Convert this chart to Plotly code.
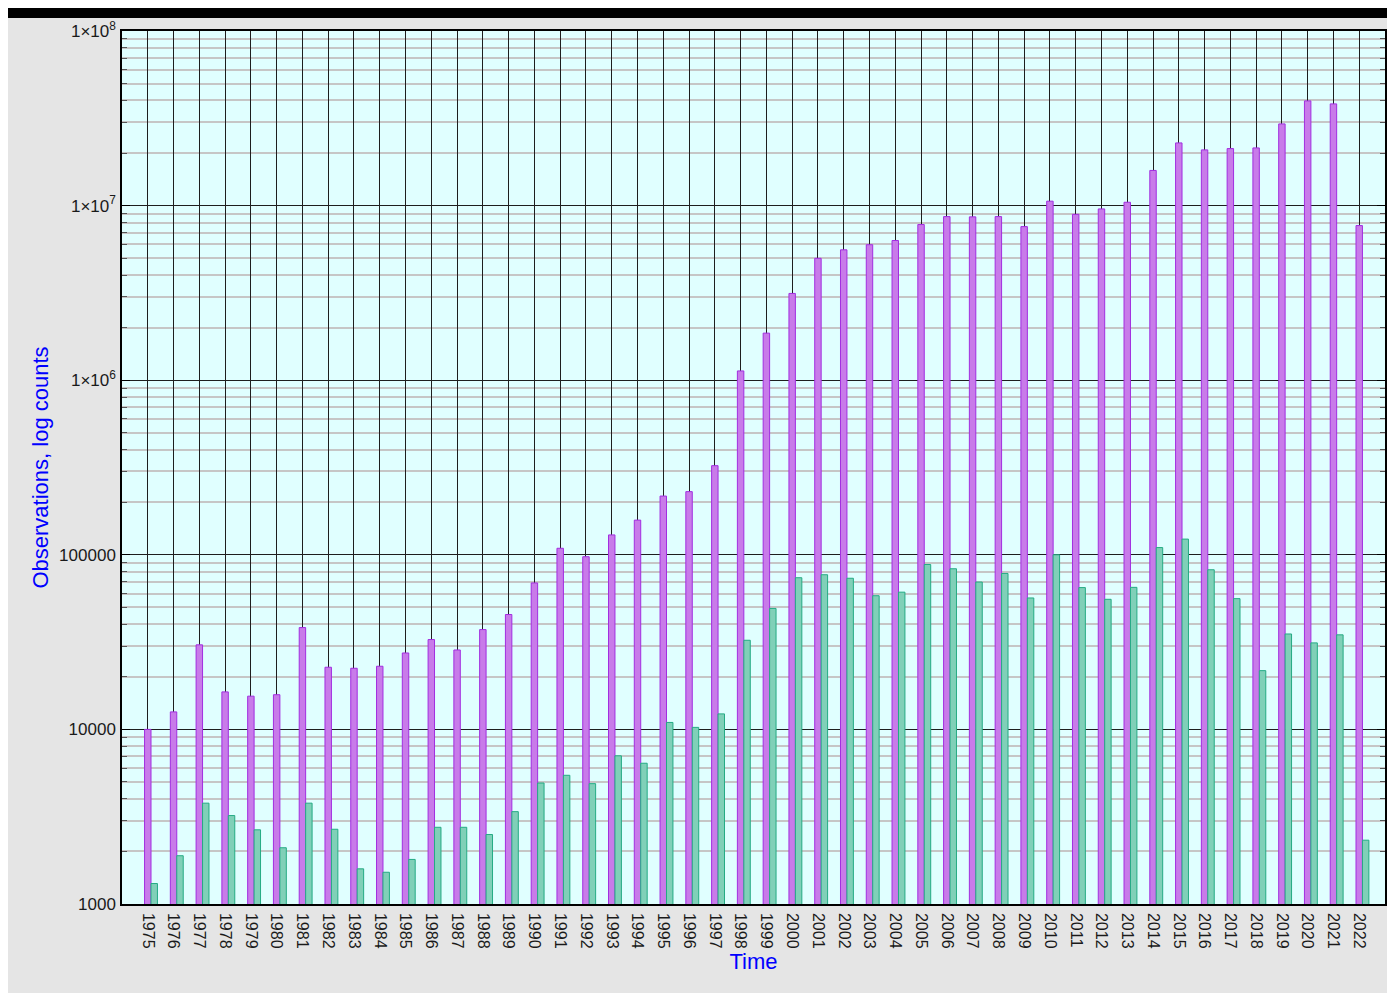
import plotly.graph_objects as go

# ---------------- data ----------------
years = ["1975", "1976", "1977", "1978", "1979", "1980", "1981", "1982", "1983", "1984",
         "1985", "1986", "1987", "1988", "1989", "1990", "1991", "1992", "1993", "1994",
         "1995", "1996", "1997", "1998", "1999", "2000", "2001", "2002", "2003", "2004",
         "2005", "2006", "2007", "2008", "2009", "2010", "2011", "2012", "2013", "2014",
         "2015", "2016", "2017", "2018", "2019", "2020", "2021", "2022"]

observations_all = [10000, 12600, 30500, 16400, 15500, 15800, 38300, 22700, 22400, 23000,
                    27400, 32700, 28500, 37300, 45500, 69000, 109000, 97500, 130000, 158000,
                    217000, 230000, 324000, 1130000, 1860000, 3140000, 4990000, 5580000, 5970000, 6310000,
                    7790000, 8650000, 8620000, 8650000, 7580000, 10600000, 8910000, 9570000, 10450000, 15900000,
                    22860000, 20850000, 21210000, 21400000, 29370000, 39790000, 38240000, 7685000]

observations_subset = [1310, 1890, 3780, 3210, 2660, 2100, 3780, 2680, 1590, 1520,
                       1800, 2750, 2750, 2500, 3380, 4930, 5460, 4890, 7060, 6400,
                       10960, 10270, 12270, 32400, 49300, 73900, 76900, 73400, 58300, 61100,
                       88000, 83200, 69800, 78200, 56600, 100000, 64900, 55600, 65100, 110000,
                       123000, 82100, 56100, 21700, 35200, 31300, 34800, 2320]

y_tick_values = [1000, 10000, 100000, 1000000, 10000000, 100000000]
y_tick_labels = ["1000", "10000", "100000", "1×10<sup>6</sup>", "1×10<sup>7</sup>", "1×10<sup>8</sup>"]

# ---------------- styling / layout ----------------
FONT = "Liberation Sans, Arial, Helvetica, sans-serif"
W, H = 1379, 985
ML, MR, MT, MB = 114, 2, 23, 89
PW, PH = W - ML - MR, H - MT - MB

idx = list(range(len(years)))
minor_vals = [m * 10 ** e for e in range(3, 8) for m in range(2, 10)]

fig = go.Figure()
fig.add_trace(go.Bar(
    x=idx, y=observations_all, width=0.25, offset=-0.125,
    name="Observations",
    marker=dict(color="#c87be9", line=dict(color="#a22ee0", width=1)),
))
fig.add_trace(go.Bar(
    x=idx, y=observations_subset, width=0.25, offset=0.125,
    name="Subset",
    marker=dict(color="#80d0b8", line=dict(color="#24ab84", width=1)),
))

fig.update_layout(
    width=W, height=H,
    margin=dict(l=ML, r=MR, t=MT, b=MB, pad=0),
    paper_bgcolor="#e5e5e5",
    plot_bgcolor="#e0ffff",
    barmode="overlay",
    showlegend=False,
    font=dict(family=FONT, color="#1a1a1a"),
    xaxis=dict(
        range=[-1, 48],
        tickmode="array", tickvals=idx, ticktext=years,
        tickangle=90,
        tickfont=dict(size=16, family=FONT, color="#1a1a1a"),
        ticks="", ticklabelstandoff=4,
        showgrid=True, gridcolor="#1e1e1e", gridwidth=1,
        showline=True, linecolor="#000000", linewidth=1.5, mirror=True,
        zeroline=False, automargin=False,
        title=dict(text="Time", font=dict(size=22, color="#0000ff", family=FONT), standoff=0),
    ),
    yaxis=dict(
        type="log", range=[3, 8],
        tickmode="array", tickvals=y_tick_values, ticktext=y_tick_labels,
        tickfont=dict(size=17, family=FONT, color="#1a1a1a"),
        ticks="inside", ticklen=8, tickcolor="#000000", tickwidth=1,
        ticklabelstandoff=1,
        showgrid=True, gridcolor="#1e1e1e", gridwidth=1,
        minor=dict(tickmode="array", tickvals=minor_vals, showgrid=True,
                   gridcolor="#c6c6c6", gridwidth=1.5,
                   ticks="inside", ticklen=5, tickcolor="#555555"),
        showline=True, linecolor="#000000", linewidth=1.5, mirror="ticks",
        zeroline=False, automargin=False,
        title=dict(text="Observations, log counts", font=dict(size=22, color="#0000ff", family=FONT),
                   standoff=4),
    ),
    shapes=[dict(type="rect", xref="paper", yref="paper", layer="above",
                 x0=-ML / PW, x1=1 + MR / PW, y0=1 + 13 / PH, y1=1 + MT / PH,
                 fillcolor="#000000", line=dict(width=0))],
)

fig.write_html("out.html")
